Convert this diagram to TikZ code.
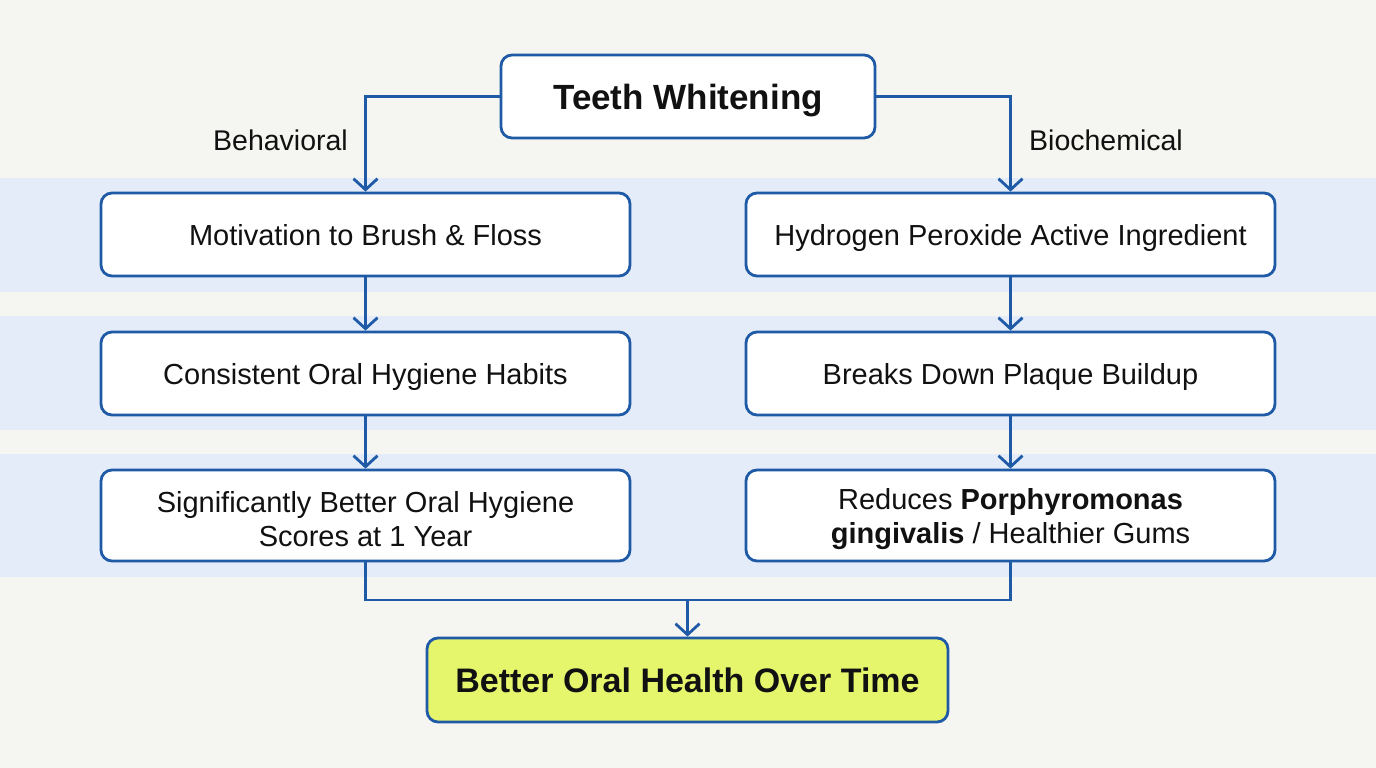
\documentclass[tikz,border=0pt]{standalone}
\usepackage{fontspec}
\setmainfont{Liberation Sans}
\usetikzlibrary{arrows.meta}
\definecolor{bgc}{HTML}{F5F5F1}
\definecolor{band}{HTML}{E3ECF8}
\definecolor{edge}{HTML}{1F5AA6}
\definecolor{goal}{HTML}{E5F56C}
\definecolor{txt}{HTML}{111111}
\newcommand{\topstrut}{\rule{0pt}{28pt}}
\tikzset{
  boxbase/.style={draw=edge, line width=2.8pt, rounded corners=11pt, fill=white,
    minimum width=529pt, minimum height=83pt, text=txt,
    font=\fontsize{29}{34}\selectfont, inner sep=0pt},
  onebox/.style={boxbase, text depth=0pt},
  twobox/.style={boxbase, align=center, minimum height=91pt},
  conn/.style={draw=edge, line width=2.6pt, rounded corners=0pt,
    -{Straight Barb[length=11pt,width=24pt,line width=2.8pt]}},
  line/.style={draw=edge, line width=2.6pt},
  lbl/.style={text=txt, font=\fontsize{28.5}{32}\selectfont}
}
\begin{document}
\begin{tikzpicture}[x=1pt,y=-1pt]
\useasboundingbox (0,0) rectangle (1376,768);
\fill[bgc] (0,0) rectangle (1376,768);
\fill[band] (0,178) rectangle (1376,292);
\fill[band] (0,316) rectangle (1376,430);
\fill[band] (0,454) rectangle (1376,577);
% nodes
\node[onebox, minimum width=374pt, font=\fontsize{35}{40}\selectfont\bfseries] (top) at (688,96.5) {Teeth Whitening};
\node[onebox] (l1) at (365.5,234.5) {Motivation to Brush \& Floss};
\node[onebox] (l2) at (365.5,373.5) {Consistent Oral Hygiene Habits};
\node[twobox] (l3) at (365.5,515.5) {\topstrut Significantly Better Oral Hygiene\\Scores at 1 Year};
\node[onebox] (r1) at (1010.5,234.5) {Hydrogen Peroxide Active Ingredient};
\node[onebox] (r2) at (1010.5,373.5) {Breaks Down Plaque Buildup};
\node[twobox] (r3) at (1010.5,515.5) {\topstrut Reduces \textbf{Porphyromonas}\\\textbf{gingivalis} / Healthier Gums};
\node[onebox, fill=goal, minimum width=521pt, minimum height=84pt, font=\fontsize{34}{38}\selectfont\bfseries] (goalnode) at (687.5,680) {Better Oral Health Over Time};
% labels
\node[lbl] (beh) at (280.5,140) {Behavioral};
\node[lbl] (bio) at (1106,140) {Biochemical};
% connectors
\draw[conn] (top.west) -| (l1.north);
\draw[conn] (top.east) -| (r1.north);
\draw[conn] (l1) -- (l2);
\draw[conn] (l2) -- (l3);
\draw[conn] (r1) -- (r2);
\draw[conn] (r2) -- (r3);
\coordinate (mid) at (687.5,600);
\draw[line] (l3.south) |- (mid) -| (r3.south);
\draw[conn] (mid) -- (goalnode.north);
\end{tikzpicture}
\end{document}
